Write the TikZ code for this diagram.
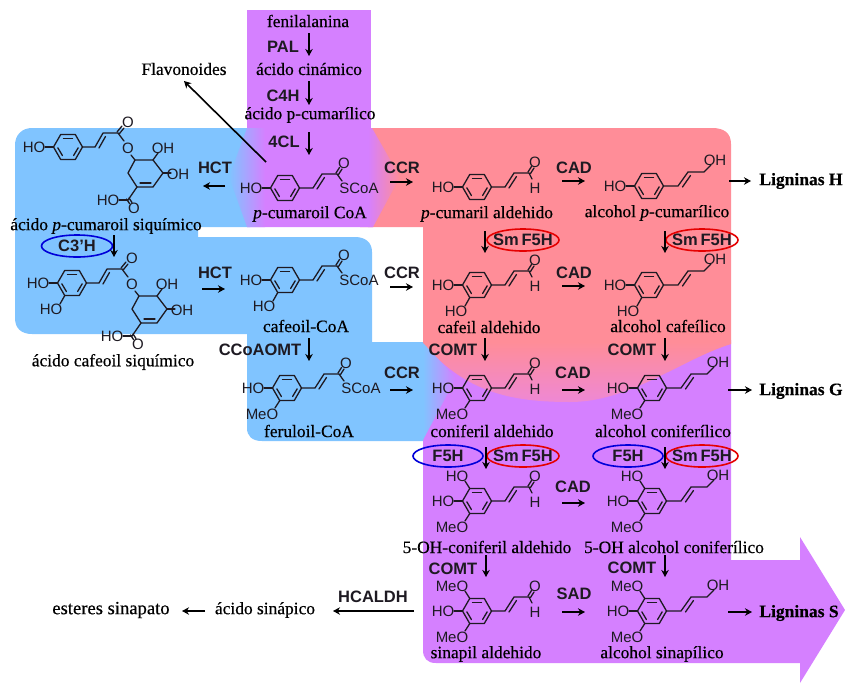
\documentclass[tikz,border=0pt]{standalone}
\usepackage{fontspec}
\setmainfont{Liberation Serif}[RawFeature={embolden=0.4}]
\setsansfont{Liberation Sans}
\usetikzlibrary{arrows.meta}
\definecolor{bluebg}{HTML}{80C4FF}
\definecolor{pinkbg}{HTML}{FF8D98}
\definecolor{purplebg}{HTML}{D580FF}
\definecolor{pinkmix}{HTML}{EE88D4}
\definecolor{ink}{HTML}{1E1A22}
\tikzset{
  lab/.style={inner sep=0pt,font=\fontsize{17.4}{17.4}\selectfont,text=black},
  enz/.style={inner sep=0pt,font=\sffamily\bfseries\fontsize{16.5}{16.5}\selectfont,text=ink},
  outlab/.style={inner sep=0pt,font=\bfseries\fontsize{17.5}{17.5}\selectfont,text=black},
  atom/.style={inner sep=0pt,font=\sffamily\fontsize{15}{15}\selectfont,text=ink},
  bond/.style={draw=ink,line width=1.3pt,line cap=round,line join=round},
  rxn/.style={draw=black,line width=1.6pt,-{Stealth[length=7pt,width=7.5pt]}},
  enzring/.style={draw,line width=1.6pt,fill=none,inner sep=0pt},
}
% benzene ring at the local origin
\newcommand\BzRing{%
  \draw[bond] (14.5,0)--(7.25,12.56)--(-7.25,12.56)--(-14.5,0)--(-7.25,-12.56)--(7.25,-12.56)--cycle;
  \draw[bond] (-4.5,-8.8)--(4.5,-8.8);
  \draw[bond] (10.2,0.8)--(5.6,8.5);
  \draw[bond] (-10.2,0.8)--(-5.6,8.5);
}
\newcommand\ChainCO{%
  \draw[bond] (14.5,0)--(28,0)--(37,-14)--(52,-14);
  \draw[bond] (32,1)--(39.5,-10.5);
}
\newcommand\HOl{\draw[bond] (-14.5,0)--(-23,0); \node[atom] (hol) at (-34,0) {HO};}
\newcommand\HOlow{\draw[bond] (-7.25,12.56)--(-12,21); \node[atom] (holow) at (-21,26) {HO};}
\newcommand\MeOlow{\draw[bond] (-7.25,12.56)--(-12,20); \node[atom] (meolow) at (-25,26) {MeO};}
\newcommand\HOhigh{\draw[bond] (-7.25,-12.56)--(-12,-20); \node[atom] (hohigh) at (-20,-25) {HO};}
\newcommand\MeOhigh{\draw[bond] (-7.25,-12.56)--(-12,-20); \node[atom] (meohigh) at (-25,-25) {MeO};}
\newcommand\AldE{\ChainCO
  \draw[bond] (51,-15)--(54.5,-20.5); \draw[bond] (53.5,-13.5)--(57,-19);
  \draw[bond] (52,-14)--(55,-8);
  \node[atom] (oxy) at (58,-25) {O}; \node[atom] (hyd) at (58,1) {H};}
\newcommand\SCoAE{\ChainCO
  \draw[bond] (51,-15)--(54.5,-20.5); \draw[bond] (53.5,-13.5)--(57,-19);
  \draw[bond] (52,-14)--(57,-7);
  \node[atom] (oxy) at (59,-25) {O}; \node[atom] (scoa) at (74,0) {SCoA};}
\newcommand\AlcE{%
  \draw[bond] (14.5,0)--(29,0)--(39,-14)--(55,-14)--(62,-21);
  \draw[bond] (33.5,1)--(41.5,-10.5);
  \node[atom] (oh) at (66,-26) {OH};}
\newcommand\Mol[4]{\begin{scope}[shift={(#2,#3)},name prefix=#1-]\BzRing #4\end{scope}}
% shikimate ester; local origin = aromatic ring centre
\newcommand\ShikE{%
  \draw[bond] (14.5,0)--(27,0)--(35,-14)--(50,-14);
  \draw[bond] (31,1)--(37.5,-10.5);
  \draw[bond] (49,-15)--(54,-21); \draw[bond] (51.5,-13.5)--(56,-19);
  \draw[bond] (50,-14)--(56,-6);
  \node[atom] (oxyt) at (60,-25) {O};
  \node[atom] (oxye) at (60,1) {O};
  \draw[bond] (63,8)--(67,13);
  \draw[bond] (67,13)--(85,13)--(95,26)--(85,40)--(69,40)--(60,26)--cycle;
  \draw[bond] (72,36)--(83,36);
  \draw[bond] (85,13)--(90,6); \node[atom] (oh1) at (95,1) {OH};
  \draw[bond] (95,26)--(103,26); \node[atom] (oh2) at (110,27) {OH};
  \draw[bond] (69,40)--(60,53);
  \draw[bond] (58.5,52)--(61.5,56.5); \draw[bond] (61,51)--(64,55.5);
  \draw[bond] (60,53)--(51,53);
  \node[atom] (hocooh) at (40,53) {HO};
  \node[atom] (ocooh) at (66,61) {O};
}
\newcommand\Arr[3]{\coordinate (#1-a) at (#2); \coordinate (#1-b) at (#3); \draw[rxn] (#1-a)--(#1-b);}
\begin{document}
\begin{tikzpicture}[x=1pt,y=-1pt]
\useasboundingbox (0,0) rectangle (845,683);
\fill[white] (0,0) rectangle (845,683);
% background regions
\fill[purplebg] (423,340)--(731,340)--(731,560)--(800,560)--(800,537)--(845,610)--(800,683)--(800,663)--(436,663)
  .. controls (427,663) and (423,658) .. (423,650)--cycle;
\fill[bluebg] (32,128)--(250,128)--(250,227)--(198,227)--(198,237)--(355,237)
  .. controls (366,237) and (372,243) .. (372,252)--(372,342)--(423,342)--(423,441)--(262,441)
  .. controls (252,441) and (247,436) .. (247,428)--(247,334)--(32,334)
  .. controls (21,334) and (15,328) .. (15,318)--(15,145)
  .. controls (15,135) and (22,128) .. (32,128)--cycle;
\fill[pinkbg] (360,128)--(712,128) .. controls (724,128) and (731,133) .. (731,144)--(731,342)--(423,342)--(423,227)--(360,227)--cycle;
\shade[top color=pinkbg,bottom color=pinkmix] (423,342)--(731,342)--(731,344)
  .. controls (680,360) and (630,402) .. (570,402) .. controls (510,402) and (465,392) .. (423,343)--cycle;
\shade[left color=bluebg,right color=purplebg] (423,343)--(456,378)--(423,440)--cycle;
\fill[purplebg] (247,10) rectangle (371,128);
\fill[purplebg] (247,128)--(371,128)--(373,227)--(247,227)--cycle;
\shade[left color=bluebg,right color=purplebg] (247,128)--(265,128)--(265,227)--(247,227)--(229,177)--cycle;
\shade[left color=purplebg,right color=pinkbg] (368,128)--(372,128)--(400,177)--(373,227)--(368,227)--cycle;
% molecules
\Mol{ester1}{68}{147}{\HOl\ShikE}
\Mol{cumcoa}{285}{188}{\HOl\SCoAE}
\Mol{cumald}{477}{187}{\HOl\AldE}
\Mol{cumalc}{649}{186}{\HOl\AlcE}
\Mol{ester2}{72}{283}{\HOl\HOlow\ShikE}
\Mol{cafcoa}{285}{280}{\HOl\HOlow\SCoAE}
\Mol{cafald}{477}{285}{\HOl\HOlow\AldE}
\Mol{cafalc}{649}{285}{\HOl\HOlow\AlcE}
\Mol{fercoa}{287}{388}{\HOl\MeOlow\SCoAE}
\Mol{conald}{477}{388}{\HOl\MeOlow\AldE}
\Mol{conalc}{652}{388}{\HOl\MeOlow\AlcE}
\Mol{ohald}{477}{501}{\HOl\HOhigh\MeOlow\AldE}
\Mol{ohalc}{652}{501}{\HOl\HOhigh\MeOlow\AlcE}
\Mol{sinald}{477}{611}{\HOl\MeOhigh\MeOlow\AldE}
\Mol{sinalc}{652}{611}{\HOl\MeOhigh\MeOlow\AlcE}
% compound names
\node[lab] (fen) at (308,21) {fenilalanina};
\node[lab] (cin) at (309,69) {ácido cinámico};
\node[lab] (pcum) at (310,115) {ácido p-cumarílico};
\node[lab] (flav) at (184,69) {Flavonoides};
\node[lab] (tcoa) at (310,214) {\textit{p}-cumaroil CoA};
\node[lab] (tes1) at (106,226) {ácido \textit{p}-cumaroil siquímico};
\node[lab] (tes2) at (113,362) {ácido cafeoil siquímico};
\node[lab] (tcaf) at (306,326) {cafeoil-CoA};
\node[lab] (tfer) at (309,431) {feruloil-CoA};
\node[lab] (tpa) at (487,214) {\textit{p}-cumaril aldehido};
\node[lab] (tpb) at (657,213) {alcohol \textit{p}-cumarílico};
\node[lab] (tca) at (489,327) {cafeil aldehido};
\node[lab] (tcb) at (668,326) {alcohol cafeílico};
\node[lab] (tga) at (492,431) {coniferil aldehido};
\node[lab] (tgb) at (663,431) {alcohol coniferílico};
\node[lab] (toa) at (487,547) {5-OH-coniferil aldehido};
\node[lab] (tob) at (674,547) {5-OH alcohol coniferílico};
\node[lab] (tsa) at (486,654) {sinapil aldehido};
\node[lab] (tsb) at (662,654) {alcohol sinapílico};
\node[lab] (sinac) at (265,610) {ácido sinápico};
\node[lab,font=\fontsize{18.6}{18.6}\selectfont] (ester) at (111,610) {esteres sinapato};
\node[outlab] (ligh) at (801,181) {Ligninas H};
\node[outlab] (ligg) at (801,391) {Ligninas G};
\node[outlab] (ligs) at (799,613) {Ligninas S};
% enzymes
\node[enz] (pal) at (283,47) {PAL};
\node[enz] (c4h) at (283,96) {C4H};
\node[enz] (cl4) at (284,142) {4CL};
\node[enz] (hct1) at (215,168) {HCT};
\node[enz] (ccr1) at (402,168) {CCR};
\node[enz] (cad1) at (574,168) {CAD};
\node[enz] (c3h) at (77,246) {C3'H};
\node[enz] (hct2) at (215,273) {HCT};
\node[enz] (ccr2) at (402,273) {CCR};
\node[enz] (cad2) at (574,273) {CAD};
\node[enz] (ccoa) at (260,350) {CCoAOMT};
\node[enz] (comt1) at (453,350) {COMT};
\node[enz] (comt2) at (632,350) {COMT};
\node[enz] (ccr3) at (402,373) {CCR};
\node[enz] (cad3) at (573,373) {CAD};
\node[enz] (cad4) at (573,487) {CAD};
\node[enz] (comt3) at (453,569) {COMT};
\node[enz] (comt4) at (632,568) {COMT};
\node[enz] (sad) at (574,594) {SAD};
\node[enz] (hcal) at (373,597) {HCALDH};
\node[enz] (sm1) at (523,240) {Sm\,F5H};
\node[enz] (sm2) at (702,240) {Sm\,F5H};
\node[enz] (f5a) at (448,456) {F5H};
\node[enz] (sm3) at (523,456) {Sm\,F5H};
\node[enz] (f5b) at (628,456) {F5H};
\node[enz] (sm4) at (702,456) {Sm\,F5H};
% enzyme ellipses
\draw[enzring,blue!85!black] (c3h) ellipse [x radius=35.5,y radius=11];
\draw[enzring,red!90!black] (sm1) ellipse [x radius=36,y radius=11];
\draw[enzring,red!90!black] (sm2) ellipse [x radius=36,y radius=11];
\draw[enzring,blue!85!black] (f5a) ellipse [x radius=35,y radius=11];
\draw[enzring,red!90!black] (sm3) ellipse [x radius=36,y radius=11];
\draw[enzring,blue!85!black] (f5b) ellipse [x radius=35,y radius=11];
\draw[enzring,red!90!black] (sm4) ellipse [x radius=36,y radius=11];
% reaction arrows
\Arr{a1}{309,33}{309,56}
\Arr{a2}{309,81}{309,105}
\Arr{a3}{309,132}{309,155}
\Arr{a4}{266,162}{184,81}
\Arr{a5}{225,186}{203,186}
\Arr{a6}{390,182}{413,182}
\Arr{a7}{562,181}{585,181}
\Arr{a8}{729,181}{751,181}
\Arr{a9}{114,235}{114,257}
\Arr{a10}{202,289}{225,289}
\Arr{a11}{390,287}{413,287}
\Arr{a12}{562,286}{585,286}
\Arr{a13}{485,231}{485,253}
\Arr{a14}{665,231}{665,253}
\Arr{a15}{309,338}{309,361}
\Arr{a16}{485,338}{485,361}
\Arr{a17}{665,338}{665,361}
\Arr{a18}{390,390}{413,390}
\Arr{a19}{562,390}{585,390}
\Arr{a20}{728,390}{752,390}
\Arr{a21}{486,447}{486,469}
\Arr{a22}{665,447}{665,469}
\Arr{a23}{562,503}{585,503}
\Arr{a24}{486,555}{486,577}
\Arr{a25}{665,555}{665,577}
\Arr{a26}{562,612}{585,612}
\Arr{a27}{728,612}{752,612}
\Arr{a28}{414,611}{333,611}
\Arr{a29}{205,611}{182,611}
\end{tikzpicture}
\end{document}
